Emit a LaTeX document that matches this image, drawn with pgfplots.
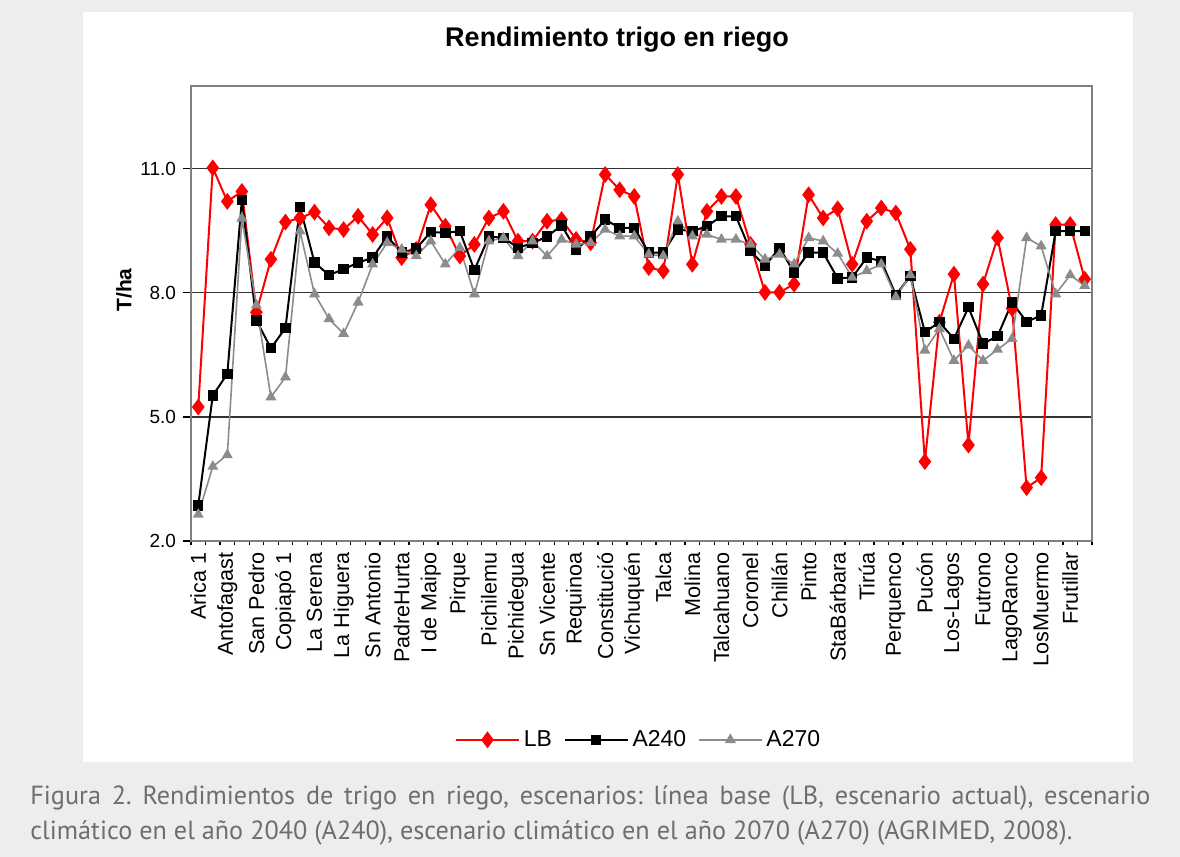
\documentclass[border=0pt]{standalone}
\usepackage{pgfplots}
\usepackage{pgfplotstable}
\pgfplotsset{compat=1.18}
\usepackage{fontspec}
\setmainfont{Liberation Sans}
\newfontfamily\capfont{PT Sans}
\definecolor{bgc}{HTML}{EDEDED}
\definecolor{lbred}{HTML}{FF0000}
\definecolor{grc}{HTML}{8C8C8C}
\definecolor{capc}{HTML}{6E6E6E}
\definecolor{framec}{HTML}{7F7F7F}

\pgfplotstableread{
idx LB A240 A270
0 5.24 2.86 2.64
1 11.02 5.52 3.80
2 10.21 6.04 4.08
3 10.45 10.25 9.80
4 7.53 7.33 7.70
5 8.81 6.66 5.48
6 9.71 7.15 5.96
7 9.81 10.08 9.49
8 9.95 8.73 7.97
9 9.57 8.43 7.37
10 9.53 8.57 7.01
11 9.85 8.73 7.77
12 9.41 8.85 8.69
13 9.81 9.36 9.21
14 8.85 8.97 9.05
15 9.05 9.07 8.89
16 10.13 9.47 9.25
17 9.61 9.45 8.69
18 8.89 9.49 9.09
19 9.17 8.55 7.97
20 9.81 9.36 9.25
21 9.97 9.33 9.33
22 9.25 9.09 8.89
23 9.25 9.20 9.25
24 9.73 9.36 8.89
25 9.77 9.63 9.29
26 9.29 9.04 9.17
27 9.21 9.36 9.21
28 10.86 9.77 9.53
29 10.49 9.57 9.37
30 10.33 9.57 9.37
31 8.61 8.97 8.93
32 8.53 8.97 8.89
33 10.86 9.53 9.73
34 8.69 9.49 9.37
35 9.97 9.61 9.41
36 10.33 9.85 9.29
37 10.33 9.85 9.29
38 9.17 9.01 9.17
39 8.01 8.65 8.81
40 8.01 9.09 8.93
41 8.21 8.49 8.69
42 10.37 8.97 9.33
43 9.81 8.97 9.25
44 10.03 8.35 8.95
45 8.69 8.37 8.37
46 9.73 8.85 8.53
47 10.05 8.77 8.69
48 9.93 7.95 7.90
49 9.05 8.40 8.43
50 3.92 7.05 6.61
51 7.29 7.29 7.13
52 8.45 6.89 6.36
53 4.32 7.65 6.73
54 8.21 6.77 6.36
55 9.33 6.95 6.63
56 7.62 7.77 6.89
57 3.29 7.30 9.33
58 3.53 7.45 9.13
59 9.65 9.49 7.97
60 9.65 9.49 8.43
61 8.33 9.49 8.17
}\datatable

\begin{document}
\frenchspacing
\begin{tikzpicture}
\begin{scope}[x=0.5pt,y=-0.5pt,shift={(-95.5pt,270.5pt)}]
\fill[bgc] (0,0) rectangle (1180,857);
\fill[white] (83,12) rectangle (1133,762);
\end{scope}
\begin{axis}[
  at={(0,0)}, anchor=south west,
  scale only axis, width=450.5pt, height=227.5pt,
  xmin=-0.5, xmax=61.5, ymin=2, ymax=13,
  ytick={2,5,8,11}, yticklabels={2.0,5.0,8.0,11.0},
  ymajorgrids, grid style={black!80, line width=0.6pt},
  xtick={0,2,...,60},
  xticklabels={Arica 1,Antofagast,San Pedro,Copiapó 1,La Serena,La Higuera,Sn Antonio,PadreHurta,I de Maipo,Pirque,Pichilemu,Pichidegua,Sn Vicente,Requinoa,Constitució,Vichuquén,Talca,Molina,Talcahuano,Coronel,Chillán,Pinto,StaBárbara,Tirúa,Perquenco,Pucón,Los-Lagos,Futrono,LagoRanco,LosMuermo,Frutillar},
  xticklabel style={rotate=90, anchor=east, font=\fontsize{10.8}{12}\selectfont, inner sep=1.5pt},
  yticklabel style={font=\fontsize{9.5}{11}\selectfont},
  xtick pos=bottom, ytick pos=left,
  major x tick style={draw=none},
  minor xtick={-0.5,0.5,...,61.5},
  minor x tick style={black, line width=0.6pt},
  minor tick length=2.2pt,
  major tick length=4pt,
  major y tick style={black, line width=0.6pt},
  tick align=outside,
  axis line style={framec, line width=0.9pt},
  legend style={at={(0.498,-0.437)}, anchor=center, draw=none, fill=none,
    legend columns=3, font=\fontsize{11.5}{13}\selectfont,
    /tikz/every even column/.append style={column sep=4pt}},
  legend image code/.code={\draw[mark repeat=2,mark phase=2] plot coordinates {(0cm,0cm) (0.55cm,0cm) (1.1cm,0cm)};},
]
\addplot[lbred, line width=1pt, mark=diamond*, mark size=3.4pt, mark options={fill=lbred, draw=lbred}] table[x=idx, y=LB] {\datatable};
\addlegendentry{LB}
\addplot[black, line width=1pt, mark=square*, mark size=2.1pt, mark options={fill=black}] table[x=idx, y=A240] {\datatable};
\addlegendentry{A240}
\addplot[grc, line width=0.8pt, mark=triangle*, mark size=2.4pt, mark options={fill=grc, draw=grc}] table[x=idx, y=A270] {\datatable};
\addlegendentry{A270}
\end{axis}
\begin{scope}[x=0.5pt,y=-0.5pt,shift={(-95.5pt,270.5pt)}]
\node[font=\bfseries\fontsize{13.5}{15}\selectfont] at (617,40) {Rendimiento trigo en riego};
\node[rotate=90, font=\bfseries\fontsize{10.5}{12}\selectfont] at (124,290) {T/ha};
\node[anchor=base west, inner sep=0, text=capc, font=\capfont\fontsize{13.1}{15}\selectfont] at (30,805) {\makebox[560pt][s]{Figura 2. Rendimientos de trigo en riego, escenarios: línea base (LB, escenario actual), escenario}};
\node[anchor=base west, inner sep=0, text=capc, font=\capfont\fontsize{13.1}{15}\selectfont] at (30,840) {climático en el año 2040 (A240), escenario climático en el año 2070 (A270) (AGRIMED, 2008).};
\end{scope}
\end{tikzpicture}
\end{document}
